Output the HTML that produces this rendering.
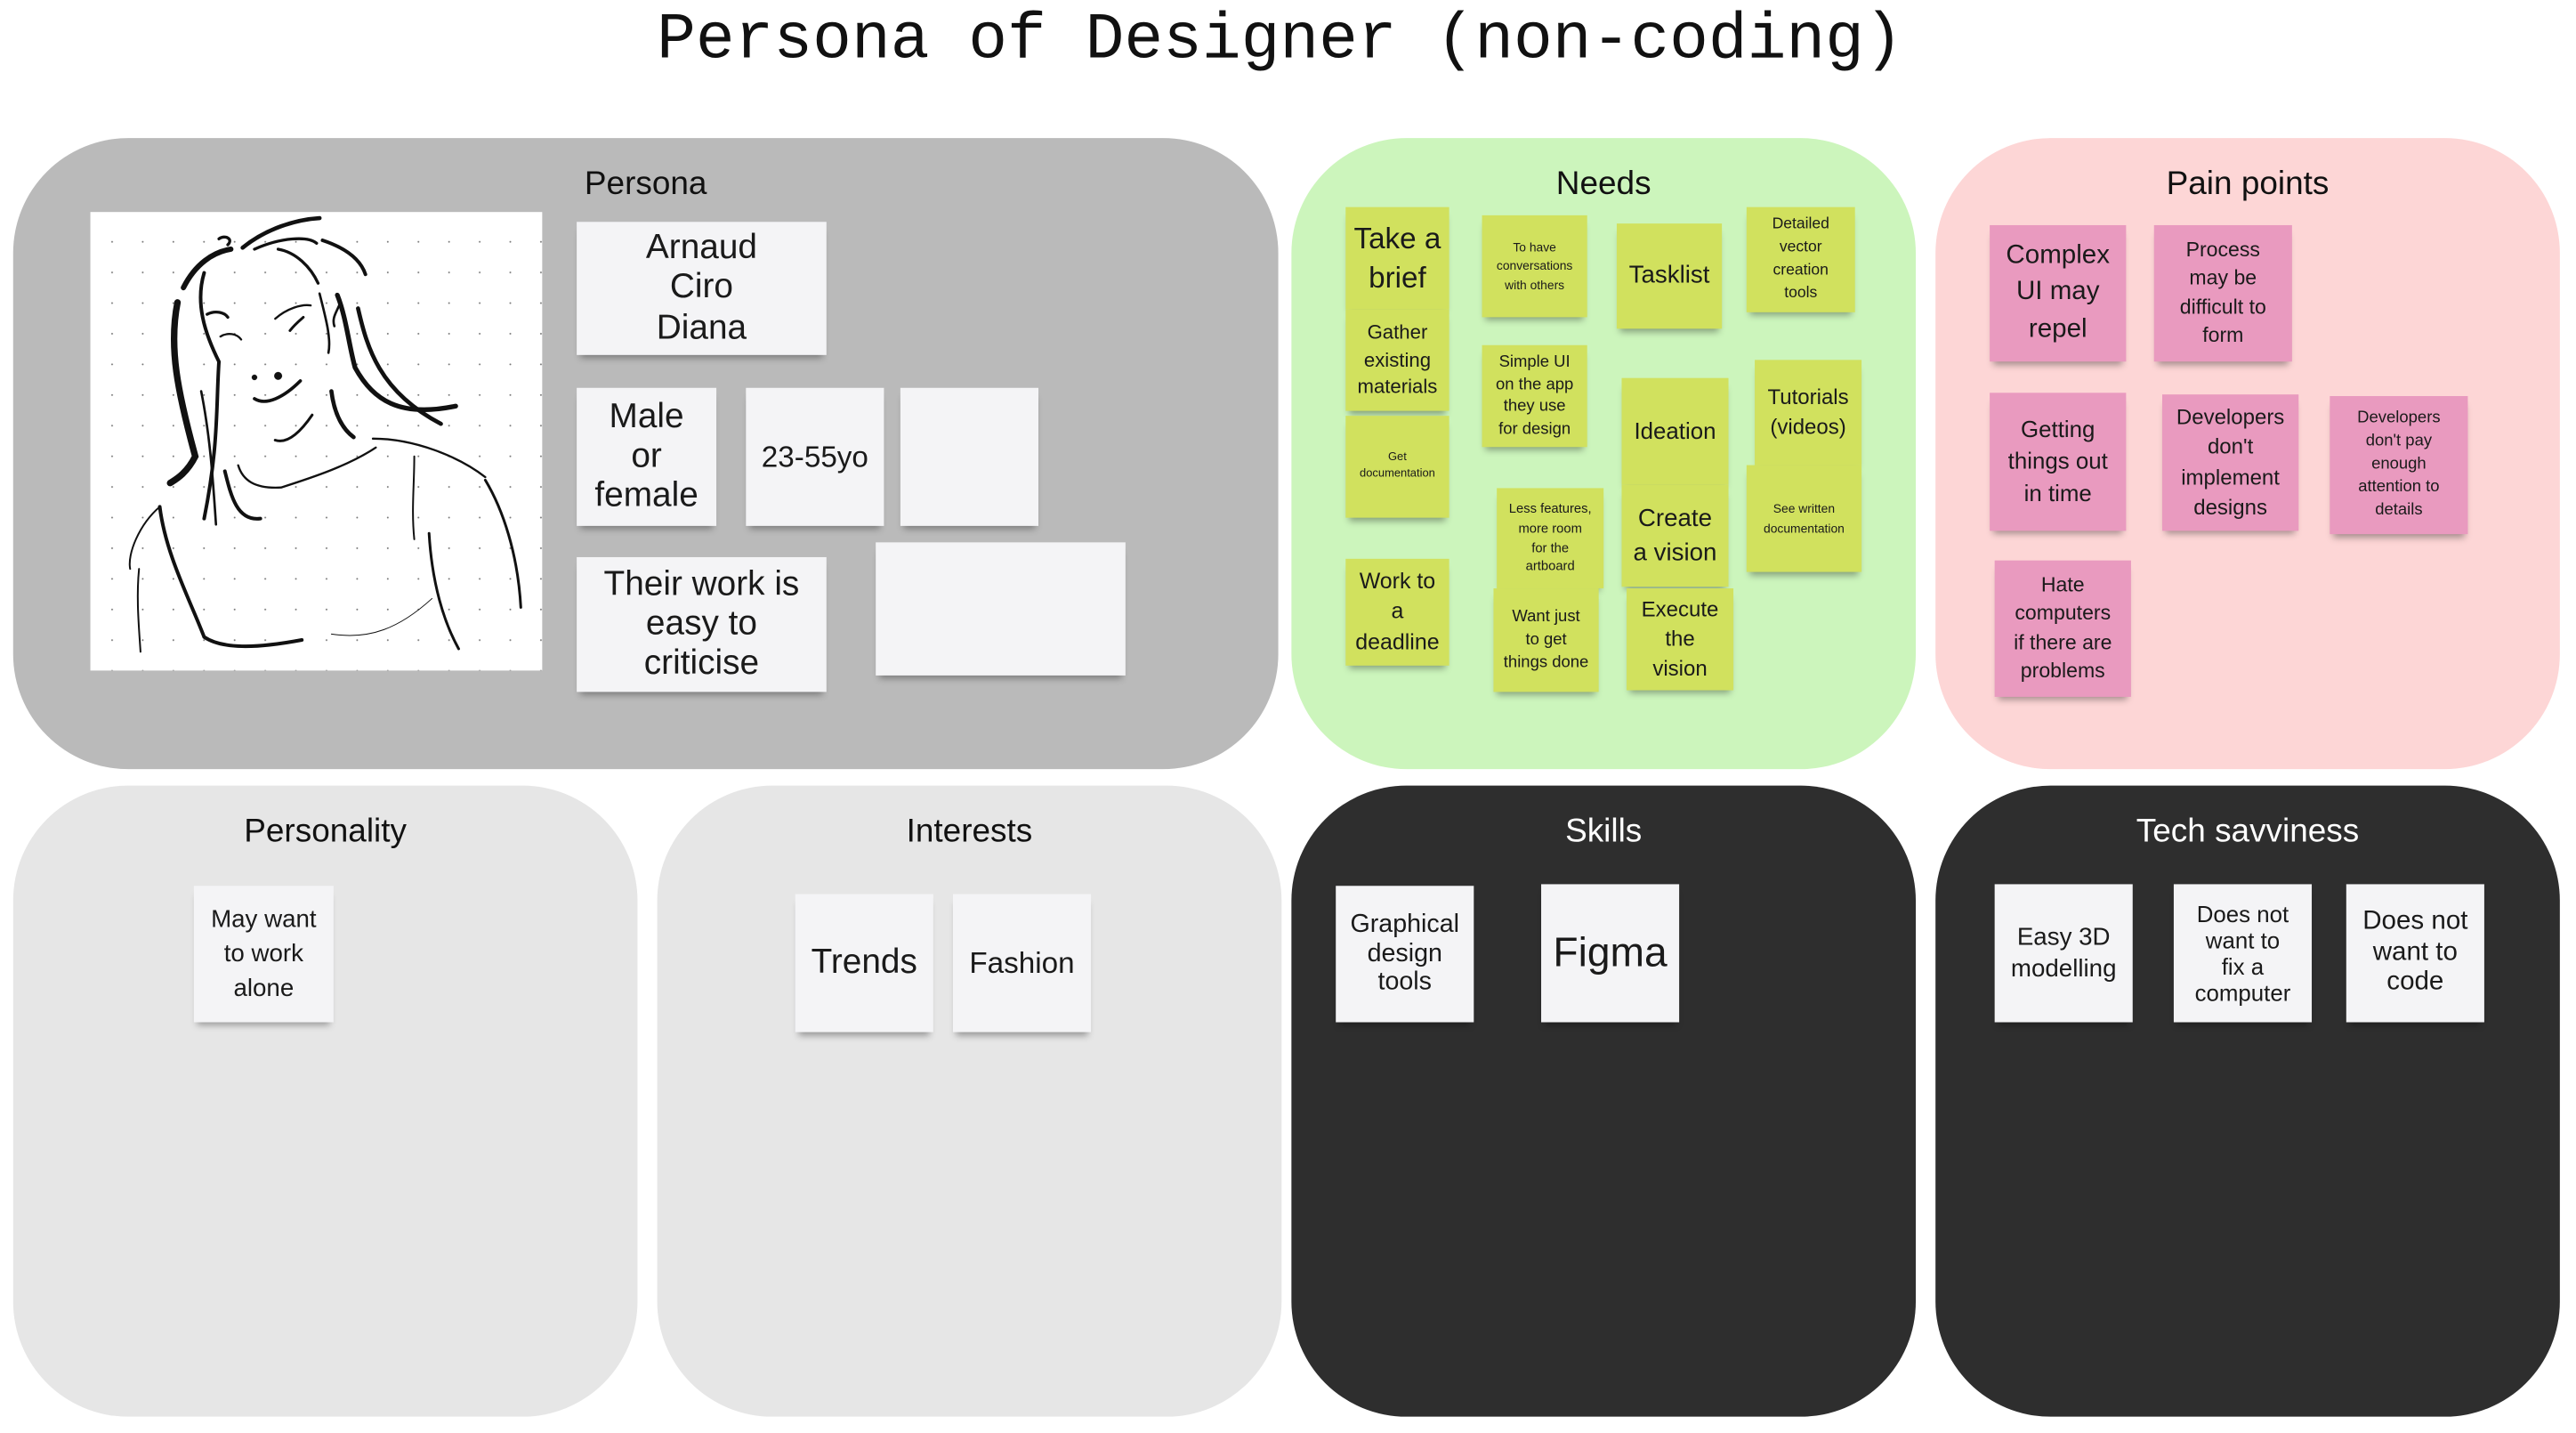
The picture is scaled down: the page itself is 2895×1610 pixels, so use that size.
<!DOCTYPE html>
<html><head><meta charset="utf-8"><style>
html,body{margin:0;padding:0;background:#fff;}
body{width:2895px;height:1609px;overflow:hidden;position:relative;}
#w{position:absolute;left:0;top:0;width:1568px;height:872px;transform:scale(1.8465);transform-origin:0 0;font-family:"Liberation Sans",sans-serif;}
.t{position:absolute;left:0;width:1558px;top:2px;text-align:center;font-family:"Liberation Mono",monospace;font-size:39.5px;color:#111;}
.p{position:absolute;border-radius:70px;}
.h{position:absolute;left:0;right:0;top:17px;text-align:center;font-size:20px;color:#111;}
.s{position:absolute;display:flex;align-items:center;justify-content:center;text-align:center;color:#1a1a1a;line-height:1.15;box-shadow:0 4px 4px -2px rgba(0,0,0,.35);box-sizing:border-box;padding:2px;}
.wt{background:#f4f4f6;}
.g{background:#d1e15e;}
.k{background:#e99abf;}
.dk .h{color:#fff;}
</style></head><body><div id="w">
<div class="t">Persona of Designer (non-coding)</div>

<div class="p" style="left:8px;top:84px;width:770px;height:384px;background:#bababa;"><div class="h" style="left:0;width:770px;">Persona</div></div>
<div class="p" style="left:786px;top:84px;width:380px;height:384px;background:#ccf5bc;"><div class="h">Needs</div></div>
<div class="p" style="left:1178px;top:84px;width:380px;height:384px;background:#fdd6d6;"><div class="h">Pain points</div></div>
<div class="p" style="left:8px;top:478px;width:380px;height:384px;background:#e6e6e6;"><div class="h">Personality</div></div>
<div class="p" style="left:400px;top:478px;width:380px;height:384px;background:#e6e6e6;"><div class="h">Interests</div></div>
<div class="p dk" style="left:786px;top:478px;width:380px;height:384px;background:#2e2e2e;"><div class="h">Skills</div></div>
<div class="p dk" style="left:1178px;top:478px;width:380px;height:384px;background:#2e2e2e;"><div class="h">Tech savviness</div></div>

<!-- portrait -->
<div style="position:absolute;left:55px;top:129px;width:275px;height:279px;background:#fff;overflow:hidden;">
<svg style="position:absolute;left:-1px;top:1px;" width="281" height="281" viewBox="0 0 1560 1560">
<defs><pattern id="d" width="103.5" height="103.5" patternUnits="userSpaceOnUse" x="27" y="43"><circle cx="52" cy="52" r="3" fill="#777"/></pattern></defs>
<rect width="1560" height="1560" fill="url(#d)"/>
<g fill="none" stroke="#111" stroke-linecap="round">
<path d="M520 115 C600 50 700 20 780 15" stroke-width="14"/>
<path d="M560 120 C650 80 740 75 770 100" stroke-width="10"/>
<path d="M440 85 C460 70 490 85 470 105" stroke-width="10"/>
<path d="M320 250 C360 170 420 130 480 120" stroke-width="18"/>
<path d="M300 300 C270 450 300 600 360 820 C330 880 290 900 275 910" stroke-width="22"/>
<path d="M390 200 C360 300 390 400 440 500 C430 650 440 780 390 1030" stroke-width="12"/>
<path d="M380 600 C410 750 420 900 430 1050" stroke-width="8"/>
<path d="M460 870 C480 950 500 1040 580 1030" stroke-width="12"/>
<path d="M640 120 C700 130 750 180 775 235" stroke-width="10"/>
<path d="M790 90 C880 120 920 160 935 205" stroke-width="12"/>
<path d="M780 270 C800 350 820 420 810 470" stroke-width="8"/>
<path d="M840 275 C870 350 880 450 900 520 C960 630 1050 690 1240 650" stroke-width="16"/>
<path d="M850 300 C840 330 820 350 830 380" stroke-width="8"/>
<path d="M820 600 C830 680 860 730 895 755" stroke-width="14"/>
<path d="M910 320 C940 450 980 600 1190 710" stroke-width="14"/>
<path d="M400 340 C430 325 460 335 470 350" stroke-width="10"/>
<path d="M630 355 C670 320 720 305 750 310" stroke-width="7"/>
<path d="M445 415 C470 400 500 405 515 425" stroke-width="7"/>
<path d="M680 395 C700 370 720 355 725 350" stroke-width="9"/>
<path d="M560 625 C600 650 660 620 715 565" stroke-width="11"/>
<circle cx="560" cy="553" r="9" fill="#111"/><circle cx="640" cy="548" r="13" fill="#111"/>
<path d="M630 765 C660 775 700 760 755 680" stroke-width="9"/>
<path d="M505 850 C520 900 560 930 650 925 C760 890 880 850 970 790" stroke-width="7"/>
<path d="M960 760 C1100 760 1250 820 1340 890" stroke-width="7"/>
<path d="M240 990 C260 1150 340 1300 390 1430 C450 1470 560 1470 720 1440" stroke-width="12"/>
<path d="M240 990 C170 1050 130 1150 140 1200" stroke-width="6"/>
<path d="M170 1200 C160 1300 170 1400 175 1480" stroke-width="6"/>
<path d="M1100 820 C1100 920 1090 1000 1100 1100" stroke-width="6"/>
<path d="M1150 1080 C1160 1250 1200 1380 1250 1470" stroke-width="9"/>
<path d="M1340 900 C1400 1000 1450 1150 1460 1330" stroke-width="9"/>
<path d="M820 1420 C950 1440 1050 1400 1160 1300" stroke-width="3"/>
</g></svg></div>

<div class="s wt" style="left:351px;top:135px;width:152px;height:81px;font-size:21px;">Arnaud<br>Ciro<br>Diana</div>
<div class="s wt" style="left:351px;top:236px;width:85px;height:84px;font-size:21px;">Male<br>or<br>female</div>
<div class="s wt" style="left:454px;top:236px;width:84px;height:84px;font-size:18px;">23-55yo</div>
<div class="s wt" style="left:548px;top:236px;width:84px;height:84px;"></div>
<div class="s wt" style="left:351px;top:339px;width:152px;height:82px;font-size:21px;">Their work is<br>easy to<br>criticise</div>
<div class="s wt" style="left:533px;top:330px;width:152px;height:81px;"></div>

<div class="s g" style="left:819px;top:126px;width:63px;height:62px;font-size:18px;line-height:1.35;">Take a<br>brief</div>
<div class="s g" style="left:819px;top:188px;width:63px;height:62px;font-size:12px;line-height:1.4;">Gather existing materials</div>
<div class="s g" style="left:819px;top:253px;width:63px;height:62px;font-size:7px;line-height:1.5;">Get<br>documentation</div>
<div class="s g" style="left:819px;top:340px;width:63px;height:65px;font-size:13.5px;line-height:1.35;">Work to<br>a<br>deadline</div>
<div class="s g" style="left:902px;top:131px;width:64px;height:62px;font-size:7.5px;line-height:1.5;">To have conversations with others</div>
<div class="s g" style="left:902px;top:210px;width:64px;height:62px;font-size:10px;line-height:1.35;">Simple UI<br>on the app<br>they use<br>for design</div>
<div class="s g" style="left:911px;top:297px;width:65px;height:61px;font-size:8px;line-height:1.45;">Less features,<br>more room<br>for the<br>artboard</div>
<div class="s g" style="left:909px;top:358px;width:64px;height:63px;font-size:10px;line-height:1.4;">Want just<br>to get<br>things done</div>
<div class="s g" style="left:984px;top:136px;width:64px;height:64px;font-size:15px;">Tasklist</div>
<div class="s g" style="left:987px;top:230px;width:65px;height:65px;font-size:14px;">Ideation</div>
<div class="s g" style="left:987px;top:295px;width:65px;height:62px;font-size:15px;line-height:1.4;">Create<br>a vision</div>
<div class="s g" style="left:990px;top:358px;width:65px;height:62px;font-size:13px;line-height:1.4;">Execute<br>the<br>vision</div>
<div class="s g" style="left:1063px;top:126px;width:66px;height:64px;font-size:9.5px;line-height:1.45;">Detailed<br>vector<br>creation<br>tools</div>
<div class="s g" style="left:1068px;top:219px;width:65px;height:64px;font-size:13px;line-height:1.4;">Tutorials<br>(videos)</div>
<div class="s g" style="left:1063px;top:283px;width:70px;height:65px;font-size:7.5px;line-height:1.5;">See written<br>documentation</div>

<div class="s k" style="left:1211px;top:137px;width:83px;height:83px;font-size:16px;line-height:1.4;">Complex<br>UI may<br>repel</div>
<div class="s k" style="left:1311px;top:137px;width:84px;height:83px;font-size:12.5px;line-height:1.4;">Process<br>may be<br>difficult to<br>form</div>
<div class="s k" style="left:1211px;top:239px;width:83px;height:84px;font-size:14px;line-height:1.4;">Getting<br>things out<br>in time</div>
<div class="s k" style="left:1316px;top:240px;width:83px;height:83px;font-size:13px;line-height:1.4;">Developers<br>don't<br>implement<br>designs</div>
<div class="s k" style="left:1418px;top:241px;width:84px;height:84px;font-size:10px;line-height:1.4;">Developers<br>don't pay<br>enough<br>attention to<br>details</div>
<div class="s k" style="left:1214px;top:341px;width:83px;height:83px;font-size:12.5px;line-height:1.4;">Hate<br>computers<br>if there are<br>problems</div>

<div class="s wt" style="left:118px;top:539px;width:85px;height:83px;font-size:15px;line-height:1.4;">May want<br>to work<br>alone</div>
<div class="s wt" style="left:484px;top:544px;width:84px;height:84px;font-size:21px;">Trends</div>
<div class="s wt" style="left:580px;top:544px;width:84px;height:84px;font-size:18px;">Fashion</div>
<div class="s wt" style="left:813px;top:539px;width:84px;height:83px;font-size:15.5px;">Graphical<br>design<br>tools</div>
<div class="s wt" style="left:938px;top:538px;width:84px;height:84px;font-size:25px;">Figma</div>
<div class="s wt" style="left:1214px;top:538px;width:84px;height:84px;font-size:15px;line-height:1.3;">Easy 3D<br>modelling</div>
<div class="s wt" style="left:1323px;top:538px;width:84px;height:84px;font-size:14px;">Does not<br>want to<br>fix a<br>computer</div>
<div class="s wt" style="left:1428px;top:538px;width:84px;height:84px;font-size:16px;">Does not<br>want to<br>code</div>
</div></body></html>
